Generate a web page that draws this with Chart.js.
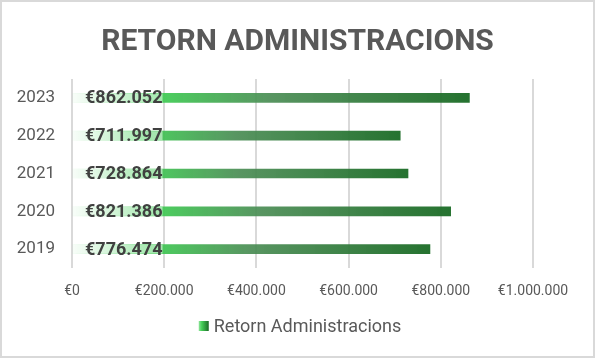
<!DOCTYPE html>
<html>
<head>
<meta charset="utf-8">
<script src="https://cdn.jsdelivr.net/npm/chart.js@4.4.1/dist/chart.umd.min.js"></script>
<style>
  html, body { margin: 0; padding: 0; background: #ffffff; }
  #wrap { position: relative; width: 595px; height: 358px; box-sizing: border-box; border: 2px solid #d9d9d9; background: #fff; }
  canvas { display: block; }
</style>
</head>
<body>
<div id="wrap"><canvas id="c" width="591" height="354"></canvas></div>
<script>
const titleText = 'RETORN ADMINISTRACIONS';
const seriesName = 'Retorn Administracions';
const categories = ['2023', '2022', '2021', '2020', '2019'];
const values = [862052, 711997, 728864, 821386, 776474];
const xTicks = [0, 200000, 400000, 600000, 800000, 1000000];

const FONT = 'Roboto, "Liberation Sans", Arial, sans-serif';

function euro(v) {
  return '€' + Math.round(v).toString().replace(/\B(?=(\d{3})+(?!\d))/g, '.');
}

function barGradient(ctx, x0, x1) {
  const g = ctx.createLinearGradient(x0, 0, x1, 0);
  g.addColorStop(0, 'rgba(90,215,110,0.08)');
  g.addColorStop(0.22, 'rgba(66,206,86,0.95)');
  g.addColorStop(0.5, 'rgba(74,140,84,0.92)');
  g.addColorStop(1, 'rgba(26,107,37,0.95)');
  return g;
}

const labelPlugin = {
  id: 'barLabels',
  afterDatasetsDraw(chart) {
    const ctx = chart.ctx;
    const meta = chart.getDatasetMeta(0);
    ctx.save();
    ctx.font = 'bold 18px ' + FONT;
    ctx.textBaseline = 'middle';
    ctx.textAlign = 'left';
    meta.data.forEach((bar, i) => {
      const txt = euro(values[i]);
      const tx = bar.base + 12;
      const w = ctx.measureText(txt).width;
      ctx.fillStyle = 'rgba(255,255,255,0.5)';
      ctx.fillRect(bar.base, bar.y - bar.height / 2, tx + w - bar.base, bar.height);
      ctx.fillStyle = '#404040';
      ctx.fillText(txt, tx, bar.y + 1);
    });
    ctx.restore();
  }
};

const legendPlugin = {
  id: 'customLegend',
  afterDraw(chart) {
    const ctx = chart.ctx;
    ctx.save();
    ctx.font = '18px ' + FONT;
    const tw = ctx.measureText(seriesName).width;
    const box = 10, gap = 5;
    const total = box + gap + tw;
    const x0 = 298 - total / 2;
    const y = 324;
    const g = ctx.createLinearGradient(x0, 0, x0 + box, 0);
    g.addColorStop(0, '#8fe39a');
    g.addColorStop(0.3, '#45cf58');
    g.addColorStop(1, '#1b6b26');
    ctx.fillStyle = g;
    ctx.fillRect(x0, y - box / 2, box, box);
    ctx.fillStyle = '#595959';
    ctx.textBaseline = 'middle';
    ctx.textAlign = 'left';
    ctx.fillText(seriesName, x0 + box + gap, y + 1);
    ctx.restore();
  }
};

new Chart(document.getElementById('c'), {
  type: 'bar',
  data: {
    labels: categories,
    datasets: [{
      label: seriesName,
      data: values,
      backgroundColor: (c) => {
        const chart = c.chart;
        if (!chart.chartArea) return '#3fae4f';
        const x0 = chart.scales.x.getPixelForValue(0);
        const x1 = chart.scales.x.getPixelForValue(values[c.dataIndex]);
        return barGradient(chart.ctx, x0, x1);
      },
      barThickness: 9,
      borderWidth: 0
    }]
  },
  options: {
    indexAxis: 'y',
    responsive: false,
    animation: false,
    devicePixelRatio: 1,
    layout: { padding: { left: 0, right: 0, top: 0, bottom: 44 } },
    plugins: {
      legend: { display: false },
      tooltip: { enabled: false },
      title: {
        display: true,
        text: titleText,
        color: '#595959',
        font: { family: FONT, size: 30, weight: 'bold' },
        padding: { top: 22, bottom: 19 }
      }
    },
    scales: {
      x: {
        min: 0,
        max: 1000000,
        afterBuildTicks: (s) => { s.ticks = xTicks.map(v => ({ value: v })); },
        ticks: {
          color: '#595959',
          font: { family: FONT, size: 14 },
          padding: 15,
          callback: (v) => euro(v),
          maxRotation: 0
        },
        grid: { color: '#d9d9d9', lineWidth: 2, drawTicks: false },
        border: { display: false },
        afterFit: (s) => { s.height = 44; }
      },
      y: {
        ticks: {
          color: '#595959',
          font: { family: FONT, size: 17 },
          padding: 17
        },
        grid: { display: false, drawTicks: false },
        border: { display: false },
        afterFit: (s) => { s.width = 70; }
      },
      yRight: {
        type: 'category',
        position: 'right',
        display: true,
        ticks: { display: false },
        grid: { display: false, drawTicks: false },
        border: { display: false },
        afterFit: (s) => { s.width = 60; }
      }
    }
  },
  plugins: [labelPlugin, legendPlugin]
});
</script>
</body>
</html>
